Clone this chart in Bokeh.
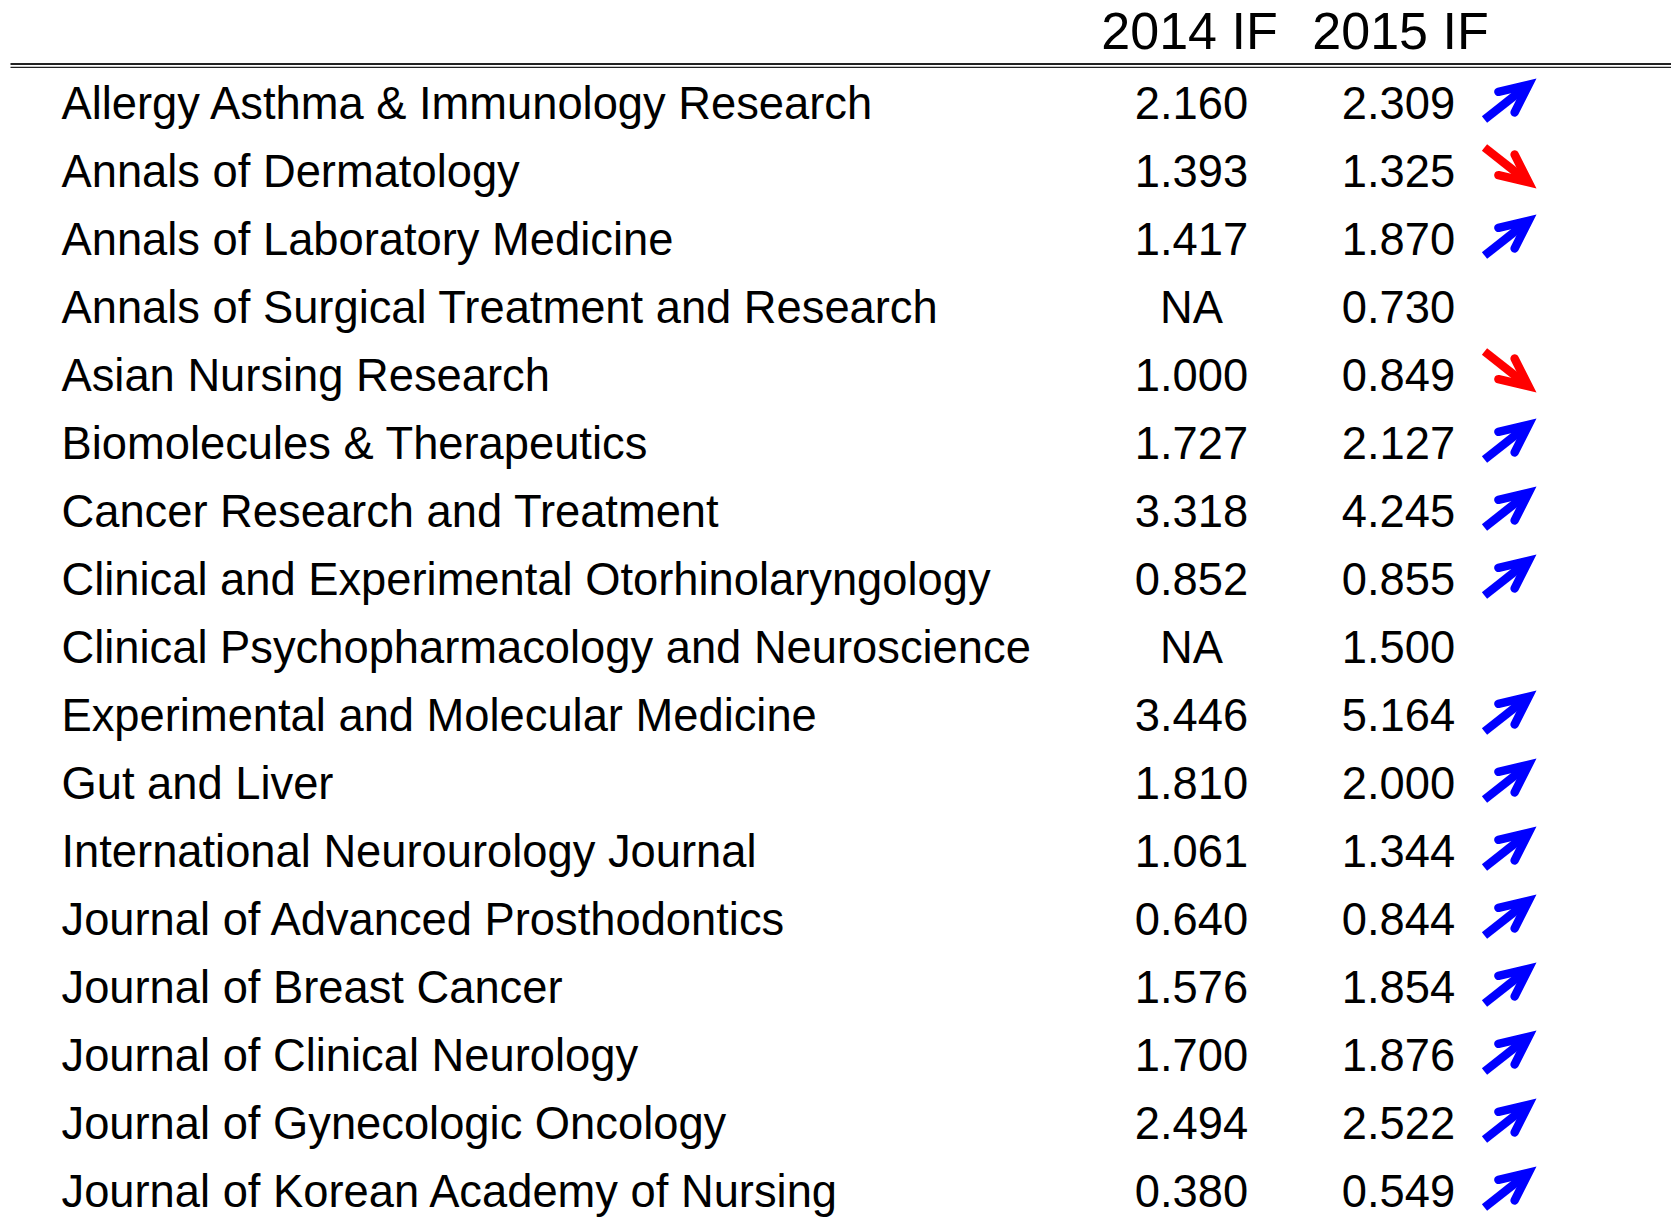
from bokeh.plotting import figure
from bokeh.models import Range1d, ColumnDataSource
from bokeh.embed import file_html
from bokeh.resources import INLINE
from bokeh.core.properties import value
import math

journals = [
    "Allergy Asthma & Immunology Research",
    "Annals of Dermatology",
    "Annals of Laboratory Medicine",
    "Annals of Surgical Treatment and Research",
    "Asian Nursing Research",
    "Biomolecules & Therapeutics",
    "Cancer Research and Treatment",
    "Clinical and Experimental Otorhinolaryngology",
    "Clinical Psychopharmacology and Neuroscience",
    "Experimental and Molecular Medicine",
    "Gut and Liver",
    "International Neurourology Journal",
    "Journal of Advanced Prosthodontics",
    "Journal of Breast Cancer",
    "Journal of Clinical Neurology",
    "Journal of Gynecologic Oncology",
    "Journal of Korean Academy of Nursing",
]
if_2014 = [2.160, 1.393, 1.417, None, 1.000, 1.727, 3.318, 0.852, None,
           3.446, 1.810, 1.061, 0.640, 1.576, 1.700, 2.494, 0.380]
if_2015 = [2.309, 1.325, 1.870, 0.730, 0.849, 2.127, 4.245, 0.855, 1.500,
           5.164, 2.000, 1.344, 0.844, 1.854, 1.876, 2.522, 0.549]
headers = ["2014 IF", "2015 IF"]

W, H = 1671, 1220
p = figure(width=W, height=H, output_backend="svg", toolbar_location=None,
           x_range=Range1d(0, W), y_range=Range1d(H, 0),
           min_border=0)
p.outline_line_color = None
p.axis.visible = False
p.grid.visible = False
p.background_fill_color = "white"
p.border_fill_color = "white"

FONT = value("Liberation Sans")
HDR_SIZE, ROW_SIZE = 52, 45.3
TXT_SHIFT = 0.335  # svg baseline correction (fraction of font size)

# header
p.text(x=[1189, 1400], y=[48 - TXT_SHIFT * HDR_SIZE] * 2, text=headers, text_font=FONT,
       text_font_size=f"{HDR_SIZE}px", text_baseline="alphabetic", text_align="center",
       text_color="black")

# double rule
p.segment(x0=[10], y0=[63.5], x1=[W], y1=[63.5], line_width=2, line_color="#222222")
p.segment(x0=[10], y0=[66.8], x1=[W], y1=[66.8], line_width=1.3, line_color="#222222")

base0, step = 118, 68
ys = [base0 + step * i for i in range(len(journals))]

src = ColumnDataSource(dict(
    y=[v - TXT_SHIFT * ROW_SIZE for v in ys],
    name=journals,
    v14=["NA" if v is None else f"{v:.3f}" for v in if_2014],
    v15=[f"{v:.3f}" for v in if_2015],
))
common = dict(text_font=FONT, text_font_size=f"{ROW_SIZE}px", text_baseline="alphabetic",
              text_color="black", source=src)
p.text(x=61, y="y", text="name", text_align="left", **common)
p.text(x=1191, y="y", text="v14", text_align="center", **common)
p.text(x=1398, y="y", text="v15", text_align="center", **common)

# arrows
shaft = dict(x0=[], y0=[], x1=[], y1=[], c=[])
heads_x, heads_y, heads_c = [], [], []
tail_x, vis_tip_x = 1484, 1536
LW = 8.5
blen, ang = 31, math.radians(25)
for y, a, b in zip(ys, if_2014, if_2015):
    if a is None:
        continue
    if b >= a:
        ty, vpy, col = y + 1, y - 40, "#0000FF"
    else:
        ty, vpy, col = y - 39, y + 2, "#FF0000"
    dx, dy = vis_tip_x - tail_x, vpy - ty
    L = math.hypot(dx, dy)
    ux, uy = dx / L, dy / L
    back = (LW / 2) / math.sin(ang)
    tx, tyy = vis_tip_x - ux * back, vpy - uy * back
    shaft["x0"].append(tail_x); shaft["y0"].append(ty)
    shaft["x1"].append(tx - ux * 3); shaft["y1"].append(tyy - uy * 3)
    shaft["c"].append(col)
    bx, by = -ux, -uy
    pts = []
    for s in (1, -1):
        ca, sa = math.cos(s * ang), math.sin(s * ang)
        rx, ry = bx * ca - by * sa, bx * sa + by * ca
        pts.append((tx + rx * blen, tyy + ry * blen))
    heads_x.append([pts[0][0], tx, pts[1][0]])
    heads_y.append([pts[0][1], tyy, pts[1][1]])
    heads_c.append(col)

p.segment(x0="x0", y0="y0", x1="x1", y1="y1", line_color="c", line_width=LW,
          line_cap="butt", source=ColumnDataSource(shaft))
p.multi_line(xs=heads_x, ys=heads_y, line_color=heads_c, line_width=LW,
             line_cap="round", line_join="miter")

open("out.html", "w").write(file_html(p, INLINE))
